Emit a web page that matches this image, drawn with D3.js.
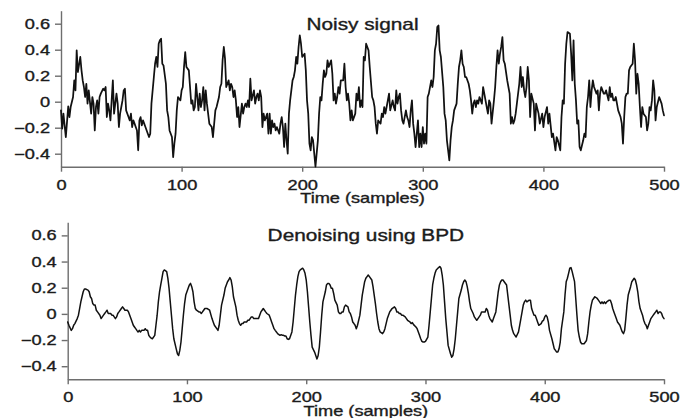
<!DOCTYPE html>
<html><head><meta charset="utf-8">
<script src="https://cdn.jsdelivr.net/npm/d3@7"></script>
<style>
html,body{margin:0;padding:0;background:#fff;}
svg{display:block;font-family:"Liberation Sans",Arial,Helvetica,sans-serif;}
</style></head><body>
<svg id="chart" width="689" height="418"></svg>
<script>
// ---- data ----
const noisySample = [0,1,2,4,6,7,8,10,11,12,13,14,16,17,18,19,20,21,22,23,25,26,27,28,29,30,31,32,33,35,36,37,38,39,40,41,42,43,44,46,47,48,49,50,51,52,53,54,56,57,58,59,60,61,63,64,65,66,67,68,69,70,72,73,74,75,77,78,79,80,81,82,83,84,85,87,88,89,90,92,93,94,95,96,97,99,100,101,102,103,104,106,107,108,109,110,111,112,114,115,116,117,118,119,120,121,123,
125,126,128,129,131,132,133,134,135,136,137,139,140,141,142,143,144,145,146,147,148,150,151,152,153,154,155,156,157,158,160,161,162,163,164,165,166,167,168,169,171,172,173,174,175,176,177,178,179,181,182,183,184,185,186,187,188,189,190,192,193,194,195,196,197,198,199,200,202,203,204,205,206,207,208,209,210,211,213,214,215,216,217,218,219,220,221,222,224,225,226,227,228,229,230,231,232,234,235,236,237,238,239,240,241,242,244,245,246,247,248,249,250,251,252,253,255,256,258,
259,260,261,262,263,265,266,267,268,269,270,271,272,273,275,276,277,278,279,280,281,282,283,284,286,287,288,289,290,291,292,293,294,296,297,298,299,300,301,302,303,304,305,307,308,309,310,311,312,313,314,315,317,318,319,320,321,322,323,324,325,326,328,329,330,331,332,333,334,335,336,338,339,340,341,342,343,344,345,346,347,349,350,351,352,353,354,355,356,357,359,360,361,362,363,364,365,366,367,368,370,371,372,373,374,375,376,377,378,380,381,382,383,384,385,386,387,388,
389,390,392,393,394,396,397,399,400,401,403,404,405,407,408,410,411,412,414,415,416,417,418,419,420,422,423,424,425,426,427,428,429,430,431,433,434,435,436,437,438,439,440,441,442,444,445,446,447,448,449,450,451,452,454,455,456,457,458,459,460,461,462,464,465,466,467,468,469,470,471,472,474,475,476,477,478,479,480,481,482,483,485,486,487,488,489,490,491,492,493,494,496,497,498,499,500];
const noisyValue = [-0.067,-0.208,-0.092,-0.272,-0.036,-0.118,-0.041,0.036,0.164,0.087,0.395,0.228,0.344,0.241,0.164,0.113,0.036,0.138,-0.015,0.087,-0.092,0.036,-0.015,-0.221,-0.041,0.010,-0.092,0.036,0.062,0.100,0.087,0.113,-0.118,-0.015,-0.067,-0.144,0.010,0.164,-0.092,0.062,-0.015,-0.195,-0.092,-0.041,0.010,0.087,0.100,-0.067,-0.118,-0.144,-0.092,-0.195,-0.144,-0.169,-0.221,-0.374,-0.144,-0.118,-0.182,-0.144,-0.169,-0.195,-0.246,-0.272,-0.246,-0.015,0.190,0.292,0.344,0.267,0.446,0.472,0.485,0.292,0.279,0.138,-0.067,-0.118,-0.221,-0.272,-0.426,-0.323,-0.246,-0.067,0.036,0.010,0.087,0.113,0.267,0.382,0.267,0.241,0.113,-0.015,0.010,-0.067,-0.041,0.138,-0.067,0.062,-0.041,0.010,0.113,-0.067,0.087,-0.015,-0.169,
-0.195,-0.272,-0.067,-0.041,0.036,0.113,0.138,0.318,0.421,0.331,0.113,0.164,0.087,0.138,0.113,0.036,0.087,0.010,-0.118,-0.041,-0.195,-0.015,-0.092,-0.041,-0.015,-0.041,0.010,-0.041,0.177,0.010,0.087,-0.015,0.036,0.062,0.010,0.087,0.036,-0.195,-0.092,-0.144,-0.092,-0.246,-0.092,-0.246,-0.144,-0.195,-0.169,-0.221,-0.195,-0.246,-0.169,-0.118,-0.195,-0.349,-0.169,-0.297,-0.400,-0.092,0.010,0.164,0.190,0.241,0.344,0.292,0.421,0.510,0.446,0.344,0.369,0.241,0.010,-0.092,-0.323,-0.374,-0.272,-0.297,-0.400,-0.500,-0.297,-0.092,0.036,0.010,0.138,0.241,0.190,0.215,0.318,0.267,0.318,0.215,0.010,0.062,-0.015,0.036,0.113,0.062,0.164,0.164,0.292,0.113,0.010,0.062,-0.015,-0.144,-0.067,-0.144,-0.092,0.062,0.010,0.113,-0.041,0.010,-0.041,0.344,0.318,0.446,0.395,0.267,0.036,
0.010,-0.041,-0.169,-0.246,-0.144,-0.169,-0.092,-0.118,-0.041,-0.092,-0.041,0.010,0.062,-0.067,0.010,-0.041,-0.067,0.087,-0.015,0.036,0.062,-0.067,-0.144,-0.169,-0.067,-0.118,-0.144,-0.195,-0.067,0.010,-0.169,-0.246,-0.349,-0.144,-0.349,-0.246,-0.349,-0.195,-0.323,-0.246,-0.323,0.036,0.062,0.164,0.113,0.190,0.395,0.446,0.574,0.587,0.395,0.344,0.113,-0.092,-0.144,-0.297,-0.374,-0.451,-0.297,-0.195,-0.144,-0.067,-0.015,0.138,0.267,0.318,0.395,0.292,0.267,0.190,0.190,0.138,0.087,0.010,-0.092,-0.015,0.010,-0.041,0.010,-0.015,0.036,-0.015,0.113,0.062,0.010,-0.041,-0.092,0.010,-0.015,-0.169,0.010,0.113,0.267,0.395,0.292,0.369,0.421,0.497,0.318,0.292,0.164,0.113,0.062,-0.169,-0.118,-0.169,-0.144,-0.092,-0.015,0.138,0.267,0.113,0.190,0.087,0.036,0.113,0.267,0.164,
-0.118,0.062,-0.015,-0.221,-0.015,-0.092,-0.169,-0.092,-0.195,-0.118,-0.041,-0.169,-0.092,-0.272,-0.246,-0.374,-0.272,-0.297,-0.374,-0.118,0.010,-0.015,0.292,0.446,0.536,0.523,0.369,0.164,0.472,0.138,0.010,-0.169,-0.144,-0.349,-0.374,-0.297,-0.246,-0.272,-0.041,0.036,0.164,-0.041,0.087,0.164,0.113,0.062,0.087,-0.067,0.062,0.113,0.087,0.062,0.062,0.087,0.010,0.113,0.036,0.062,0.010,0.010,0.036,-0.015,-0.067,-0.118,-0.169,-0.323,-0.118,0.036,0.062,0.062,0.241,0.267,0.292,0.446,0.318,0.062,0.215,0.138,-0.041,-0.195,-0.041,-0.092,-0.118,-0.221,-0.169,-0.041,-0.067,0.010,0.164,0.087,-0.144,-0.041,0.036,0.010,-0.015,-0.067,-0.105];

const bpdSample = [0,1,3,4,5,6,8,9,10,11,12,13,14,15,17,18,19,20,21,22,23,24,25,27,28,29,30,31,32,33,34,36,37,38,39,40,41,42,43,45,46,47,48,49,50,51,52,53,55,56,57,58,59,60,61,62,64,65,66,67,68,69,70,71,73,74,75,76,77,78,79,80,81,83,84,85,86,87,88,89,91,92,93,94,95,96,97,98,99,101,102,103,104,105,106,107,108,110,111,112,113,114,115,116,117,119,
121,122,123,125,126,127,128,129,131,132,133,134,135,136,137,138,139,141,142,143,144,145,146,147,148,150,151,152,153,154,155,156,157,158,160,161,162,163,164,165,166,167,169,170,171,172,173,174,175,176,178,179,180,181,182,183,184,185,186,188,189,190,191,192,193,194,195,197,198,199,200,201,202,203,204,205,207,208,209,210,211,212,213,214,216,217,218,219,220,221,222,223,224,226,227,228,229,230,231,232,233,235,236,237,238,239,240,241,242,243,245,246,247,248,249,250,251,252,253,
255,256,257,258,259,260,261,262,264,265,266,267,268,269,270,271,272,274,275,276,277,278,279,280,281,283,284,285,286,287,288,289,290,292,293,294,295,296,297,298,299,300,302,303,304,305,306,307,308,309,311,312,313,314,315,316,317,318,319,321,322,323,324,325,326,327,328,330,331,332,333,334,335,336,337,338,340,341,342,343,344,345,346,347,349,350,351,352,353,354,355,356,357,359,360,361,362,363,364,365,366,368,369,370,371,372,373,374,375,376,378,379,380,381,382,383,384,385,387,388,
389,390,391,392,393,394,395,397,398,399,400,401,402,403,404,406,407,408,409,410,411,412,413,414,416,417,418,419,420,421,422,423,425,426,427,428,429,430,431,432,433,435,436,437,438,439,440,441,442,444,445,446,447,448,449,450,451,452,454,455,456,457,458,459,460,461,463,464,465,466,467,468,469,470,472,473,474,475,476,477,478,479,480,482,483,484,485,486,487,488,489,491,492,493,494,495,496,497,498,499,500];
const bpdValue = [-0.062,-0.087,-0.126,-0.113,-0.087,-0.074,-0.036,-0.010,0.041,0.092,0.131,0.169,0.190,0.190,0.182,0.169,0.131,0.118,0.079,0.067,0.067,0.028,0.015,-0.010,-0.036,-0.023,-0.010,0.003,0.015,0.028,0.003,0.003,-0.010,-0.010,-0.023,-0.036,-0.023,0.003,0.015,0.041,0.054,0.041,0.028,0.028,0.028,0.015,-0.010,-0.036,-0.087,-0.100,-0.113,-0.126,-0.138,-0.126,-0.138,-0.126,-0.126,-0.113,-0.126,-0.126,-0.164,-0.177,-0.185,-0.190,-0.164,-0.087,-0.010,0.092,0.169,0.221,0.272,0.323,0.336,0.323,0.272,0.195,0.092,-0.010,-0.113,-0.190,-0.267,-0.305,-0.318,-0.279,-0.215,-0.113,-0.010,0.079,0.144,0.195,0.221,0.233,0.208,0.169,0.092,0.041,0.028,0.015,0.015,0.003,0.015,0.028,0.041,0.041,0.041,0.028,
-0.036,-0.062,-0.087,-0.113,-0.126,-0.087,-0.010,0.067,0.144,0.195,0.221,0.246,0.259,0.277,0.259,0.208,0.131,0.054,-0.010,-0.049,-0.074,-0.087,-0.074,-0.074,-0.062,-0.062,-0.049,-0.049,-0.036,-0.023,-0.023,-0.036,-0.036,-0.036,-0.036,-0.010,0.015,0.028,0.041,0.028,0.015,0.003,-0.010,-0.036,-0.062,-0.087,-0.113,-0.126,-0.138,-0.151,-0.164,-0.159,-0.164,-0.164,-0.169,-0.169,-0.190,-0.195,-0.190,-0.138,-0.062,0.041,0.144,0.221,0.285,0.323,0.336,0.349,0.336,0.310,0.259,0.169,0.054,-0.062,-0.164,-0.254,-0.292,-0.318,-0.344,-0.318,-0.254,-0.138,-0.010,0.092,0.169,0.221,0.233,0.233,0.221,0.195,0.195,0.156,0.105,0.067,0.015,0.003,0.003,0.015,0.015,0.054,0.067,0.054,0.015,0.003,-0.023,-0.062,-0.074,-0.087,-0.113,-0.087,-0.010,0.067,0.144,0.195,0.246,0.272,0.285,0.297,0.285,
0.259,0.208,0.144,0.079,0.003,-0.062,-0.113,-0.138,-0.151,-0.138,-0.113,-0.074,-0.036,-0.010,0.015,0.028,0.041,0.054,0.041,0.015,0.015,0.003,0.003,-0.010,-0.010,-0.023,-0.036,-0.049,-0.056,-0.062,-0.074,-0.067,-0.082,-0.100,-0.113,-0.138,-0.164,-0.190,-0.210,-0.215,-0.215,-0.210,-0.177,-0.087,0.015,0.118,0.221,0.272,0.310,0.336,0.354,0.362,0.349,0.297,0.221,0.092,-0.036,-0.138,-0.241,-0.305,-0.331,-0.318,-0.267,-0.190,-0.087,0.015,0.118,0.182,0.221,0.246,0.259,0.246,0.208,0.156,0.092,0.041,0.003,-0.023,-0.036,-0.049,-0.036,-0.023,-0.010,0.015,0.015,0.015,0.041,0.028,-0.010,-0.036,-0.049,-0.062,-0.036,0.015,0.092,0.169,0.221,0.246,0.259,0.259,0.246,0.221,0.144,0.067,-0.010,-0.087,-0.126,-0.151,-0.164,-0.177,-0.138,-0.087,-0.036,0.015,0.067,0.092,0.105,0.092,0.105,0.105,
0.041,0.015,-0.010,-0.010,-0.036,-0.062,-0.087,-0.074,-0.056,-0.049,-0.023,-0.010,-0.023,-0.062,-0.126,-0.190,-0.228,-0.267,-0.279,-0.292,-0.292,-0.267,-0.215,-0.113,0.015,0.144,0.246,0.272,0.310,0.349,0.354,0.323,0.246,0.118,-0.010,-0.126,-0.177,-0.215,-0.228,-0.228,-0.228,-0.203,-0.151,-0.062,0.015,0.067,0.105,0.118,0.131,0.118,0.105,0.092,0.079,0.092,0.079,0.092,0.079,0.092,0.105,0.105,0.079,0.041,0.015,-0.010,-0.036,-0.062,-0.087,-0.113,-0.138,-0.151,-0.126,-0.036,0.067,0.144,0.208,0.246,0.259,0.272,0.259,0.221,0.169,0.092,0.041,-0.010,-0.049,-0.074,-0.087,-0.113,-0.087,-0.062,-0.036,-0.010,0.003,0.015,0.028,0.003,0.015,0.015,0.003,-0.023,-0.036];

const xTicks = [0, 100, 200, 300, 400, 500];
const yTicks = [-0.4, -0.2, 0, 0.2, 0.4, 0.6];
const panelTitles = ["Noisy signal", "Denoising using BPD"];
const xLabel = "Time (samples)";

// ---- drawing ----
const svg = d3.select("#chart");
const SX = 1.3;   // horizontal text stretch seen in the reference
const INK = "#1b1b1b";
const AXIS = "#6e6e6e";

function stretch(sel) {
  sel.each(function () {
    const t = d3.select(this);
    const x = +t.attr("x") || 0;
    t.attr("transform", `translate(${x},0) scale(${SX},1) translate(${-x},0)`);
  });
}
function heavy(sel) {
  sel.attr("stroke", INK).attr("stroke-width", 0.35).attr("paint-order", "stroke");
}

const panels = [
  { left: 61,   right: 664, top: 10.7,  bottom: 166.7, s: noisySample, v: noisyValue, title: panelTitles[0], titleY: 30,    lw: 1.75 },
  { left: 67.7, right: 664, top: 222.3, bottom: 379.3, s: bpdSample,   v: bpdValue,   title: panelTitles[1], titleY: 240.7, lw: 1.5 }
];

const fmt = d => d === 0 ? "0" : d3.format(".1f")(d);

panels.forEach(p => {
  const x = d3.scaleLinear().domain([0, 500]).range([p.left, p.right]);
  const y = d3.scaleLinear().domain([-0.5, 0.7]).range([p.bottom, p.top]);
  const g = svg.append("g");

  const yAxis = g.append("g").attr("transform", `translate(${p.left},0)`)
    .call(d3.axisLeft(y).tickValues(yTicks).tickSize(6).tickPadding(5).tickSizeOuter(0).tickFormat(fmt));
  const xAxis = g.append("g").attr("transform", `translate(0,${p.bottom})`)
    .call(d3.axisBottom(x).tickValues(xTicks).tickSize(5).tickPadding(8).tickSizeOuter(0).tickFormat(d3.format("d")));

  [yAxis, xAxis].forEach(a => {
    a.attr("font-family", null).attr("font-size", null);
    a.select(".domain").attr("stroke", AXIS).attr("stroke-width", 1.4);
    a.selectAll(".tick line").attr("stroke", AXIS).attr("stroke-width", 1.4);
    a.selectAll(".tick text").attr("fill", INK).style("font-size", "14px").call(heavy).call(stretch);
  });

  const line = d3.line().x((d, i) => x(p.s[i])).y((d, i) => y(p.v[i]));
  g.append("path").datum(p.v).attr("d", line)
    .attr("fill", "none").attr("stroke", "#111").attr("stroke-width", p.lw)
    .attr("stroke-linejoin", "round").attr("stroke-linecap", "round");

  const cx = (p.left + p.right) / 2;
  g.append("text").attr("x", cx).attr("y", p.titleY).attr("text-anchor", "middle")
    .style("font-size", "16px").attr("fill", INK).text(p.title).call(heavy).call(stretch);
  g.append("text").attr("x", cx).attr("y", p.bottom + 36.6).attr("text-anchor", "middle")
    .style("font-size", "14px").attr("fill", INK).text(xLabel).call(heavy).call(stretch);
});
</script>
</body></html>
